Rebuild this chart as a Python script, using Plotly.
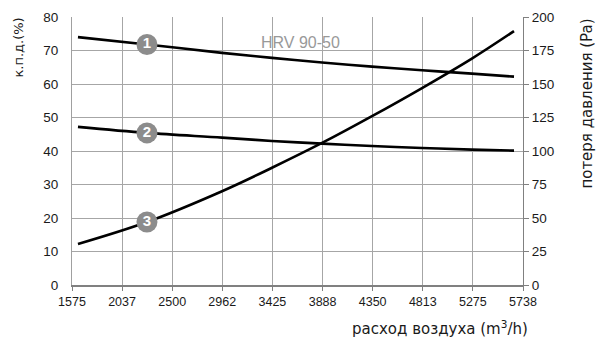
import plotly.graph_objects as go

# data
flow = [1630, 2267, 2960, 3421, 3883, 4344, 4806, 5266, 5655]
eff_1 = [74.0, 71.8, 69.3, 67.8, 66.4, 65.2, 64.1, 63.1, 62.2]
eff_2 = [47.2, 45.4, 44.0, 43.0, 42.2, 41.5, 40.9, 40.4, 40.1]
pressure_3 = [30.6, 47.0, 70.0, 87.5, 106.0, 126.0, 147.0, 169.0, 189.5]
x_ticks = [1575, 2037, 2500, 2962, 3425, 3888, 4350, 4813, 5275, 5738]
badge_x = 2267
badge_labels = ["1", "2", "3"]
badge_y = [71.8, 45.4, 47.0]

FONT = "Liberation Sans, Arial, sans-serif"
TFONT = "DejaVu Sans, sans-serif"
GRID = "#a6a6a6"

fig = go.Figure()
line = dict(color="black", width=2.6, shape="spline")
fig.add_trace(go.Scatter(x=flow, y=eff_1, mode="lines", line=line, yaxis="y"))
fig.add_trace(go.Scatter(x=flow, y=eff_2, mode="lines", line=line, yaxis="y"))
fig.add_trace(go.Scatter(x=flow, y=pressure_3, mode="lines", line=line, yaxis="y2"))

badge_style = dict(mode="markers+text",
                   marker=dict(size=21, color="#8c8c8c", line=dict(width=0)),
                   textfont=dict(color="white", size=15, family=FONT),
                   textposition="middle center")
fig.add_trace(go.Scatter(x=[badge_x], y=[badge_y[0]], text=["<b>" + badge_labels[0] + "</b>"], yaxis="y", **badge_style))
fig.add_trace(go.Scatter(x=[badge_x], y=[badge_y[1]], text=["<b>" + badge_labels[1] + "</b>"], yaxis="y", **badge_style))
fig.add_trace(go.Scatter(x=[badge_x], y=[badge_y[2]], text=["<b>" + badge_labels[2] + "</b>"], yaxis="y2", **badge_style))

fig.update_layout(
    width=608, height=342,
    margin=dict(l=72, r=85, t=17, b=57, autoexpand=False),
    paper_bgcolor="white", plot_bgcolor="white",
    showlegend=False,
    font=dict(family=FONT, size=13, color="#1a1a1a"),
    xaxis=dict(range=[1575, 5738], tickvals=x_ticks, ticktext=[str(v) for v in x_ticks],
               showgrid=True, gridcolor=GRID, gridwidth=1,
               showline=True, linecolor="#808080", linewidth=1.5,
               ticks="outside", ticklen=4, tickcolor="#808080",
               tickfont=dict(size=12.5), zeroline=False, fixedrange=True),
    yaxis=dict(range=[0, 80], dtick=10, showgrid=True, gridcolor=GRID, gridwidth=1,
               showline=True, linecolor="#a0a0a0", linewidth=1,
               ticks="", ticklabelstandoff=10, tickfont=dict(size=13.5), zeroline=False),
    yaxis2=dict(range=[0, 200], dtick=25, overlaying="y", side="right", showgrid=False,
                showline=True, linecolor="#808080", linewidth=1,
                ticks="outside", ticklen=5, tickcolor="#808080",
                tickfont=dict(size=13.5), zeroline=False),
)

fig.add_annotation(text="HRV 90-50", xref="paper", yref="paper", x=0.506, y=0.945,
                   showarrow=False, font=dict(size=16, color="#999999", family=FONT))
fig.add_annotation(text="к.п.д.(%)", xref="paper", yref="paper", x=-0.118, y=0.885,
                   xanchor="center", yanchor="middle", textangle=-90, showarrow=False,
                   font=dict(size=13, color="#1a1a1a", family=TFONT))
fig.add_annotation(text="потеря давления (Pa)", xref="paper", yref="paper", x=1.142, y=0.677,
                   xanchor="center", yanchor="middle", textangle=-90, showarrow=False,
                   font=dict(size=15, color="#1a1a1a", family=TFONT))
fig.add_annotation(text="расход воздуха (m<sup>3</sup>/h)", xref="paper", yref="paper", x=1.0155, y=-0.16,
                   xanchor="right", yanchor="middle", showarrow=False,
                   font=dict(size=15, color="#1a1a1a", family=TFONT))

fig.write_html("out.html", config={"displayModeBar": False},
               post_script="document.body.style.margin='0';document.body.style.overflow='hidden';")
